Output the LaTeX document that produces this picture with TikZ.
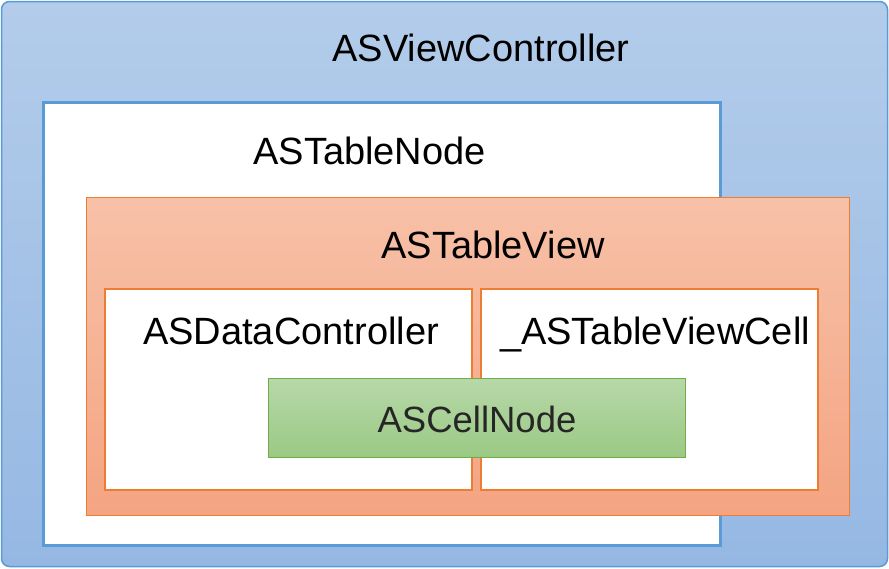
\documentclass[tikz,border=0pt]{standalone}
\usepackage{fontspec}
\setmainfont{Liberation Sans}
\usepackage{tikz}

\definecolor{vcline}{HTML}{5B9BD5}
\definecolor{vctop}{HTML}{B3CCEA}
\definecolor{vcbot}{HTML}{95B8E3}
\definecolor{tvline}{HTML}{ED7D31}
\definecolor{tvtop}{HTML}{F7C1A8}
\definecolor{tvbot}{HTML}{F4A482}
\definecolor{cnline}{HTML}{70AD47}
\definecolor{cntop}{HTML}{B7D8A9}
\definecolor{cnbot}{HTML}{9BC984}

\tikzset{
	box/.style={shape=rectangle, inner sep=0pt, outer sep=0pt},
	lbl/.style={anchor=base, inner sep=0pt, font=\fontsize{38}{44}\selectfont}
}

\begin{document}
\begin{tikzpicture}[x=1pt, y=-1pt]
	
	\useasboundingbox (0,0) rectangle (889,568);
	
	\node[box, draw=vcline, line width=1.5pt, rounded corners=8pt, top color=vctop, bottom color=vcbot, minimum width=886pt, minimum height=565pt] (vc) at (444.5, 284) {};
	\node[box, draw=vcline, line width=2.5pt, fill=white, minimum width=677pt, minimum height=443pt] (tablenode) at (382, 324) {};
	\node[box, draw=tvline, line width=1pt, top color=tvtop, bottom color=tvbot, minimum width=763pt, minimum height=318pt] (tableview) at (467.5, 356) {};
	\node[box, draw=tvline, line width=2pt, fill=white, minimum width=367pt, minimum height=201pt] (datactrl) at (288, 389) {};
	\node[box, draw=tvline, line width=2pt, fill=white, minimum width=337pt, minimum height=201pt] (cell) at (649, 389) {};
	\node[box, draw=cnline, line width=1pt, top color=cntop, bottom color=cnbot, minimum width=417pt, minimum height=79pt] (cellnode) at (476.5, 417.5) {};
	
	\node[lbl] (vctext) at (481, 61) {ASViewController};
	\node[lbl] (tablenodetext) at (369.5, 164) {ASTableNode};
	\node[lbl] (tableviewtext) at (493, 258) {ASTableView};
	\node[lbl] (datactrltext) at (291, 344) {ASDataController};
	\node[lbl] (celltext) at (655, 344) {\_ASTableViewCell};
	\node[lbl, text=black!85, font=\fontsize{36.5}{44}\selectfont] (cellnodetext) at (477, 432) {ASCellNode};
	
\end{tikzpicture}
\end{document}
